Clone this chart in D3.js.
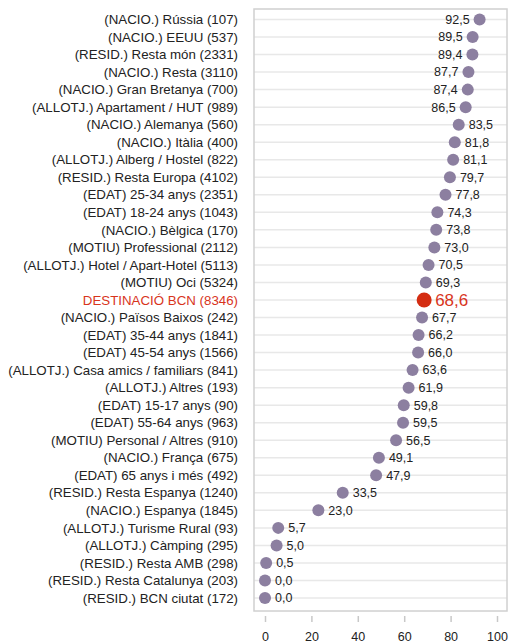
<!DOCTYPE html>
<html>
<head>
<meta charset="utf-8">
<script src="https://cdn.jsdelivr.net/npm/d3@7"></script>
<style>
  body { margin: 0; background: #fff; }
  text { font-family: "Liberation Sans", Arial, sans-serif; }
</style>
</head>
<body>
<div id="chart"></div>
<script>
// chart data
var categories = [
  "(NACIO.) Rússia (107)", "(NACIO.) EEUU (537)", "(RESID.) Resta món (2331)",
  "(NACIO.) Resta (3110)", "(NACIO.) Gran Bretanya (700)", "(ALLOTJ.) Apartament / HUT (989)",
  "(NACIO.) Alemanya (560)", "(NACIO.) Itàlia (400)", "(ALLOTJ.) Alberg / Hostel (822)",
  "(RESID.) Resta Europa (4102)", "(EDAT) 25-34 anys (2351)", "(EDAT) 18-24 anys (1043)",
  "(NACIO.) Bèlgica (170)", "(MOTIU) Professional (2112)", "(ALLOTJ.) Hotel / Apart-Hotel (5113)",
  "(MOTIU) Oci (5324)", "DESTINACIÓ BCN (8346)", "(NACIO.) Països Baixos (242)",
  "(EDAT) 35-44 anys (1841)", "(EDAT) 45-54 anys (1566)", "(ALLOTJ.) Casa amics / familiars (841)",
  "(ALLOTJ.) Altres (193)", "(EDAT) 15-17 anys (90)", "(EDAT) 55-64 anys (963)",
  "(MOTIU) Personal / Altres (910)", "(NACIO.) França (675)", "(EDAT) 65 anys i més (492)",
  "(RESID.) Resta Espanya (1240)", "(NACIO.) Espanya (1845)", "(ALLOTJ.) Turisme Rural (93)",
  "(ALLOTJ.) Càmping (295)", "(RESID.) Resta AMB (298)", "(RESID.) Resta Catalunya (203)",
  "(RESID.) BCN ciutat (172)"
];
var values = [
  92.5, 89.5, 89.4, 87.7, 87.4, 86.5, 83.5, 81.8, 81.1, 79.7, 77.8, 74.3,
  73.8, 73.0, 70.5, 69.3, 68.6, 67.7, 66.2, 66.0, 63.6, 61.9, 59.8, 59.5,
  56.5, 49.1, 47.9, 33.5, 23.0, 5.7, 5.0, 0.5, 0.0, 0.0
];
var highlight = "DESTINACIÓ BCN (8346)";
var xTicks = [0, 20, 40, 60, 80, 100];

var width = 512, height = 643;
var frame = { left: 254, right: 507, top: 9, bottom: 611 };

var svg = d3.select("#chart").append("svg")
  .attr("width", width).attr("height", height);

var x = d3.scaleLinear().domain([0, 100]).range([265, 497]);
var y = d3.scalePoint().domain(categories).range([19.5, 598]);

var data = categories.map(function (c, i) { return { cat: c, val: values[i] }; });
var fmt = function (v) { return d3.format(".1f")(v).replace(".", ","); };

// gridlines
svg.append("g").selectAll("line").data(data).enter().append("line")
  .attr("x1", frame.left).attr("x2", frame.right)
  .attr("y1", d => y(d.cat)).attr("y2", d => y(d.cat))
  .attr("stroke", "#e8e8e8").attr("stroke-width", 1.5);

// frame
svg.append("rect")
  .attr("x", frame.left).attr("y", frame.top)
  .attr("width", frame.right - frame.left).attr("height", frame.bottom - frame.top)
  .attr("fill", "none").attr("stroke", "#d0d0d0").attr("stroke-width", 1.5);

// x axis
var xAxis = svg.append("g")
  .attr("transform", "translate(0," + (frame.bottom + 5) + ")")
  .call(d3.axisBottom(x).tickValues(xTicks).tickSize(6).tickPadding(10));
xAxis.select(".domain").remove();
xAxis.selectAll(".tick line").attr("stroke", "#c8c8c8").attr("stroke-width", 1.5);
xAxis.selectAll(".tick text").attr("font-size", 12.5).attr("fill", "#222")
  .style("font-family", "'Liberation Sans', Arial, sans-serif");

// category labels
svg.append("g").selectAll("text").data(data).enter().append("text")
  .attr("x", 238).attr("y", d => y(d.cat)).attr("dy", "0.35em")
  .attr("text-anchor", "end").attr("font-size", 13.3)
  .attr("fill", d => d.cat === highlight ? "#d8341c" : "#222")
  .text(d => d.cat);

// dots
svg.append("g").selectAll("circle").data(data).enter().append("circle")
  .attr("cx", d => x(d.val)).attr("cy", d => y(d.cat))
  .attr("r", d => d.cat === highlight ? 7.5 : 6)
  .attr("fill", d => d.cat === highlight ? "#d42d12" : "#8c7fa0");

// value labels
svg.append("g").selectAll("text").data(data).enter().append("text")
  .attr("x", d => d.val > 85 ? x(d.val) - 10 : x(d.val) + (d.cat === highlight ? 11 : 10))
  .attr("y", d => y(d.cat)).attr("dy", "0.35em")
  .attr("text-anchor", d => d.val > 85 ? "end" : "start")
  .attr("font-size", d => d.cat === highlight ? 17 : 12.5)
  .attr("fill", d => d.cat === highlight ? "#d8341c" : "#222")
  .text(d => fmt(d.val));
</script>
</body>
</html>
